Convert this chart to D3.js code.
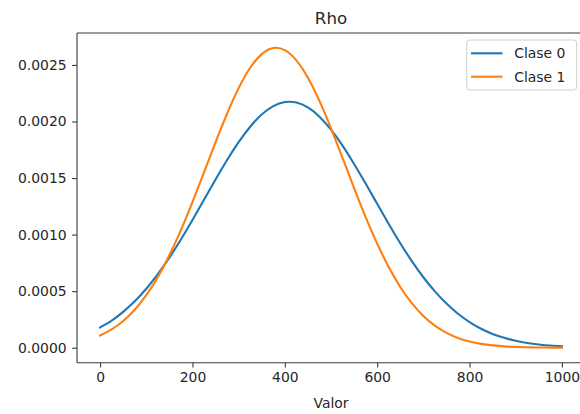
<!DOCTYPE html>
<html>
<head>
<meta charset="utf-8">
<script src="https://cdn.jsdelivr.net/npm/d3@7"></script>
<style>
  body { margin: 0; background: #fff; }
  svg { display: block; font-family: "DejaVu Sans", sans-serif; }
</style>
</head>
<body>
<svg id="chart" width="580" height="414"></svg>
<script>
// ---- data ----
const title = "Rho";
const xLabel = "Valor";
const seriesNames = ["Clase 0", "Clase 1"];
const xValues = [0, 25, 50, 75, 100, 125, 150, 175, 200, 225, 250, 275, 300, 325, 350, 375,
                 400, 425, 450, 475, 500, 525, 550, 575, 600, 625, 650, 675, 700, 725,
                 750, 775, 800, 825, 850, 875, 900, 925, 950, 975, 1000];
const clase0 = [0.000179, 0.000240, 0.000317, 0.000410, 0.000521, 0.000650, 0.000796, 0.000957,
                0.001129, 0.001308, 0.001487, 0.001659, 0.001817, 0.001954, 0.002062, 0.002136,
                0.002172, 0.002168, 0.002124, 0.002043, 0.001928, 0.001787, 0.001625, 0.001451,
                0.001272, 0.001094, 0.000924, 0.000766, 0.000623, 0.000498, 0.000390, 0.000300,
                0.000227, 0.000168, 0.000122, 0.0000874, 0.000061, 0.0000422, 0.000029, 0.0000189,
                0.000012];
const clase1 = [0.000108, 0.000162, 0.000236, 0.000336, 0.000464, 0.000624, 0.000817, 0.001039,
                0.001287, 0.001550, 0.001816, 0.002070, 0.002295, 0.002475, 0.002596, 0.002650,
                0.002631, 0.002541, 0.002387, 0.002182, 0.001940, 0.001678, 0.001412, 0.001155,
                0.000920, 0.000713, 0.000537, 0.000394, 0.000281, 0.000195, 0.000131, 0.0000862,
                0.000055, 0.0000342, 0.000021, 0.0000121, 0.000007, 0.0000039, 0.000002, 0.0000011,
                0.0000006];
const xTicks = [0, 200, 400, 600, 800, 1000];
const yTicks = [0.0000, 0.0005, 0.0010, 0.0015, 0.0020, 0.0025];
const colors = ["#1f77b4", "#ff7f0e"];

// ---- layout ----
const svg = d3.select("#chart");
const pLeft = 77, pRight = 585, pTop = 33, pBottom = 362.7;

const x = d3.scaleLinear().domain([-50, 1050]).range([pLeft, pRight]);
const y = d3.scaleLinear().domain([-0.0001325, 0.0027825]).range([pBottom, pTop]);

const textColor = "#262626";
const spineColor = "#3a3a3a";

// lines
const series = [clase0, clase1];
const line = d3.line()
  .x(d => x(d[0]))
  .y(d => y(d[1]))
  .curve(d3.curveNatural);

series.forEach((vals, i) => {
  svg.append("path")
    .datum(xValues.map((xv, j) => [xv, vals[j]]))
    .attr("fill", "none")
    .attr("stroke", colors[i])
    .attr("stroke-width", 2.1)
    .attr("stroke-linejoin", "round")
    .attr("stroke-linecap", "square")
    .attr("d", line);
});

// x axis
const xAxis = d3.axisBottom(x).tickValues(xTicks).tickFormat(d3.format("d"))
  .tickSizeInner(4.9).tickSizeOuter(0).tickPadding(4.5);
const gx = svg.append("g").attr("transform", `translate(0,${pBottom})`).call(xAxis);
gx.select(".domain").remove();
gx.selectAll(".tick line").attr("stroke", spineColor).attr("stroke-width", 1.1);
gx.selectAll(".tick text").attr("fill", textColor).attr("font-size", 13.9)
  .attr("font-family", "DejaVu Sans");

// y axis
const yAxis = d3.axisLeft(y).tickValues(yTicks).tickFormat(d3.format(".4f"))
  .tickSizeInner(4.9).tickSizeOuter(0).tickPadding(5.5);
const gy = svg.append("g").attr("transform", `translate(${pLeft},0)`).call(yAxis);
gy.select(".domain").remove();
gy.selectAll(".tick line").attr("stroke", spineColor).attr("stroke-width", 1.1);
gy.selectAll(".tick text").attr("fill", textColor).attr("font-size", 13.9)
  .attr("font-family", "DejaVu Sans");

// spines
const sp = svg.append("g").attr("stroke", spineColor).attr("stroke-width", 1.1).attr("fill", "none");
sp.append("line").attr("x1", pLeft).attr("x2", pLeft).attr("y1", pTop).attr("y2", pBottom);
sp.append("line").attr("x1", pLeft).attr("x2", pRight).attr("y1", pBottom).attr("y2", pBottom);
sp.append("line").attr("x1", pLeft).attr("x2", pRight).attr("y1", pTop).attr("y2", pTop);
sp.append("line").attr("x1", pRight).attr("x2", pRight).attr("y1", pTop).attr("y2", pBottom);

// title
svg.append("text")
  .attr("x", (pLeft + pRight) / 2).attr("y", 24)
  .attr("text-anchor", "middle")
  .attr("font-size", 16.7).attr("fill", textColor)
  .text(title);

// x label
svg.append("text")
  .attr("x", (pLeft + pRight) / 2).attr("y", 408)
  .attr("text-anchor", "middle")
  .attr("font-size", 13.9).attr("fill", textColor)
  .text(xLabel);

// legend
const lg = svg.append("g");
lg.append("rect")
  .attr("x", 466.7).attr("y", 40).attr("width", 110).attr("height", 50)
  .attr("rx", 3).attr("ry", 3)
  .attr("fill", "#fff").attr("fill-opacity", 0.8)
  .attr("stroke", "#d0d0d0").attr("stroke-width", 1);
seriesNames.forEach((name, i) => {
  const cy = 53.3 + i * 23.4;
  lg.append("line")
    .attr("x1", 471).attr("x2", 502.5).attr("y1", cy).attr("y2", cy)
    .attr("stroke", colors[i]).attr("stroke-width", 2.1);
  lg.append("text")
    .attr("x", 514.3).attr("y", cy).attr("dy", "0.36em")
    .attr("font-size", 13.9).attr("fill", textColor)
    .text(name);
});
</script>
</body>
</html>
